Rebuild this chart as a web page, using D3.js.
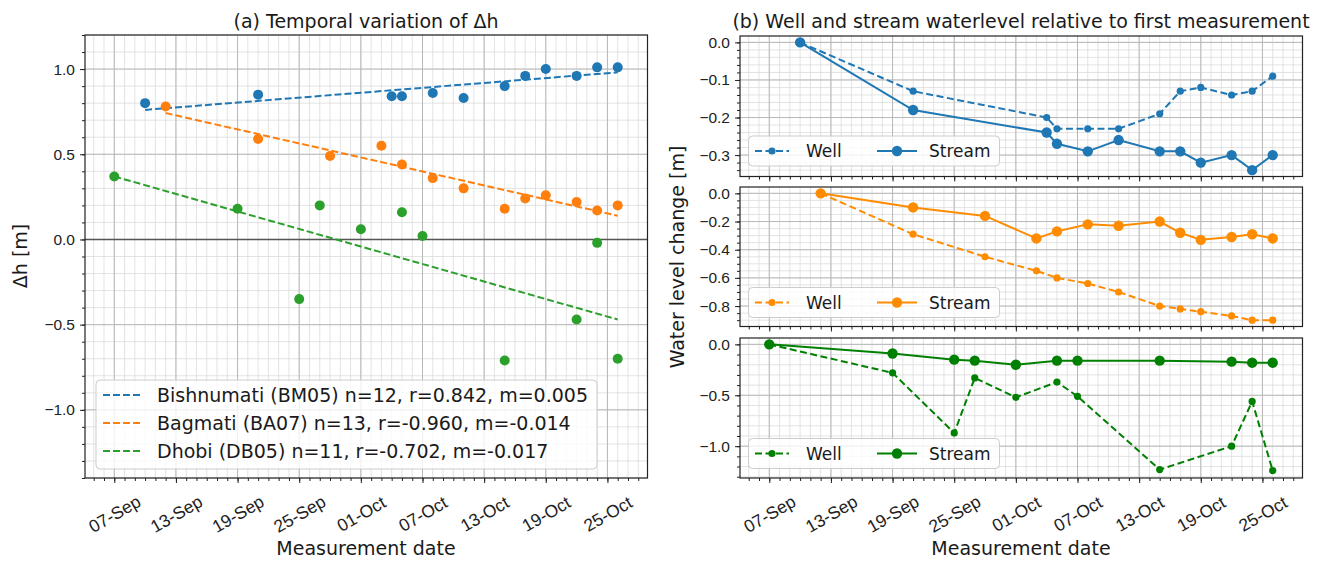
<!DOCTYPE html>
<html lang="en">
<head>
<meta charset="UTF-8">
<title>Temporal variation of Δh and water level change</title>
<script src="https://d3js.org/d3.v7.min.js"></script>
<style>
  body { margin: 0; background: #fff; }
  svg { font-family: "DejaVu Sans", sans-serif; display: block; background: #fff; }
  .grid-major line { stroke: #b8b8b8; stroke-width: 1; }
  .grid-minor line { stroke: #dcdcdc; stroke-width: 0.8; }
  .axis path { display: none; }
  .axis line { stroke: #222; stroke-width: 1; }
  .axis text { fill: #222; font-size: 15.5px; }
</style>
</head>
<body>
<div id="chart"></div>
<script>
  // Bishnumati (BM05)
  const bmDates = ["2019-09-10","2019-09-21","2019-10-04","2019-10-05","2019-10-08","2019-10-11","2019-10-15","2019-10-17","2019-10-19","2019-10-22","2019-10-24","2019-10-26"];
  const bmDh = [0.80, 0.85, 0.84, 0.84, 0.86, 0.83, 0.90, 0.96, 1.00, 0.96, 1.01, 1.01];
  const bmWell = [0, -0.13, -0.20, -0.23, -0.23, -0.23, -0.19, -0.13, -0.12, -0.14, -0.13, -0.09];
  const bmStream = [0, -0.18, -0.24, -0.27, -0.29, -0.26, -0.29, -0.29, -0.32, -0.30, -0.34, -0.30];

  // Bagmati (BA07)
  const baDates = ["2019-09-12","2019-09-21","2019-09-28","2019-10-03","2019-10-05","2019-10-08","2019-10-11","2019-10-15","2019-10-17","2019-10-19","2019-10-22","2019-10-24","2019-10-26"];
  const baDh = [0.78, 0.59, 0.49, 0.55, 0.44, 0.36, 0.30, 0.18, 0.24, 0.26, 0.22, 0.17, 0.20];
  const baWell = [0, -0.29, -0.45, -0.55, -0.60, -0.64, -0.70, -0.80, -0.82, -0.84, -0.87, -0.90, -0.90];
  const baStream = [0, -0.10, -0.16, -0.32, -0.27, -0.22, -0.23, -0.20, -0.28, -0.33, -0.31, -0.29, -0.32];

  // Dhobi (DB05)
  const dbDates = ["2019-09-07","2019-09-19","2019-09-25","2019-09-27","2019-10-01","2019-10-05","2019-10-07","2019-10-15","2019-10-22","2019-10-24","2019-10-26"];
  const dbDh = [0.37, 0.18, -0.35, 0.20, 0.06, 0.16, 0.02, -0.71, -0.47, -0.02, -0.70];
  const dbWell = [0, -0.28, -0.87, -0.33, -0.52, -0.37, -0.51, -1.23, -1.00, -0.56, -1.24];
  const dbStream = [0, -0.09, -0.15, -0.16, -0.20, -0.16, -0.16, -0.16, -0.17, -0.18, -0.18];

  const legendLabels = [
    "Bishnumati (BM05) n=12, r=0.842, m=0.005",
    "Bagmati (BA07) n=13, r=-0.960, m=-0.014",
    "Dhobi (DB05) n=11, r=-0.702, m=-0.017"
  ];
  const xTickDates = ["2019-09-07","2019-09-13","2019-09-19","2019-09-25","2019-10-01","2019-10-07","2019-10-13","2019-10-19","2019-10-25"];
  const leftYTicks = [-1.0, -0.5, 0.0, 0.5, 1.0];
  const bmYTicks = [-0.3, -0.2, -0.1, 0.0];
  const baYTicks = [-0.8, -0.6, -0.4, -0.2, 0.0];
  const dbYTicks = [-1.0, -0.5, 0.0];

  const parse = d3.utcParse("%Y-%m-%d");
  const fmtDate = d3.utcFormat("%d-%b");
  const fmtY = v => (v < -1e-9 ? "\u2212" : "") + Math.abs(v).toFixed(1);
  const DAY = 864e5;
  const t0 = parse("2019-09-07");
  const xDomain = [new Date(+t0 - 2.85 * DAY), new Date(+t0 + 51.9 * DAY)];
  const xMinor = d3.utcDay.range(xDomain[0], xDomain[1]);
  const xMajor = xTickDates.map(parse);

  const cLeft = ["#1f77b4", "#ff7f0e", "#2ca02c"];
  const cRight = ["#1f77b4", "#ff8c00", "#008000"];

  const svg = d3.select("#chart").append("svg")
    .attr("width", 1321).attr("height", 563);

  function minorRange(lo, hi, step) {
    const a = Math.ceil(lo / step - 1e-6), b = Math.floor(hi / step + 1e-6);
    return d3.range(a, b + 1).map(i => +(i * step).toFixed(4));
  }

  // one axes box with grid, ticks and frame; returns scales and a data layer
  function panel(p) {
    const x = d3.scaleUtc().domain(xDomain).range([p.left, p.right]);
    const y = d3.scaleLinear().domain(p.yDomain).range([p.bottom, p.top]);
    const g = svg.append("g");
    const yMinor = minorRange(p.yDomain[0], p.yDomain[1], p.yMinorStep);

    const gm = g.append("g").attr("class", "grid-minor");
    gm.selectAll("line.v").data(xMinor).join("line")
      .attr("x1", d => x(d)).attr("x2", d => x(d)).attr("y1", p.top).attr("y2", p.bottom);
    gm.selectAll("line.h").data(yMinor).join("line")
      .attr("x1", p.left).attr("x2", p.right).attr("y1", d => y(d)).attr("y2", d => y(d));
    const gM = g.append("g").attr("class", "grid-major");
    gM.selectAll("line.v").data(xMajor).join("line")
      .attr("x1", d => x(d)).attr("x2", d => x(d)).attr("y1", p.top).attr("y2", p.bottom);
    gM.selectAll("line.h").data(p.yTicks).join("line")
      .attr("x1", p.left).attr("x2", p.right).attr("y1", d => y(d)).attr("y2", d => y(d));

    // minor ticks
    g.append("g").attr("class", "axis").attr("transform", `translate(${p.left},0)`)
      .call(d3.axisLeft(y).tickValues(yMinor).tickSize(3).tickFormat(""));
    g.append("g").attr("class", "axis").attr("transform", `translate(0,${p.bottom})`)
      .call(d3.axisBottom(x).tickValues(xMinor).tickSize(3).tickFormat(""));
    // major ticks
    g.append("g").attr("class", "axis").attr("transform", `translate(${p.left},0)`)
      .call(d3.axisLeft(y).tickValues(p.yTicks).tickSize(5).tickPadding(5).tickFormat(fmtY));
    const xa = g.append("g").attr("class", "axis").attr("transform", `translate(0,${p.bottom})`)
      .call(d3.axisBottom(x).tickValues(xMajor).tickSize(5).tickFormat(p.xLabels ? fmtDate : ""));
    if (p.xLabels) {
      xa.selectAll("text")
        .attr("y", 0).attr("dy", null)
        .attr("dominant-baseline", "central")
        .style("font-size", "17.5px")
        .attr("transform", "translate(0,36) rotate(-30)");
    }

    const data = g.append("g");
    const over = g.append("g");
    g.append("rect")
      .attr("x", p.left).attr("y", p.top)
      .attr("width", p.right - p.left).attr("height", p.bottom - p.top)
      .attr("fill", "none").attr("stroke", "#222").attr("stroke-width", 1.2);
    return { x, y, data, over };
  }

  // ---------- (a) left panel ----------
  const A = panel({ left: 85, right: 647.5, top: 35, bottom: 478,
    yDomain: [-1.4, 1.2], yTicks: leftYTicks, yMinorStep: 0.1, xLabels: true });

  A.data.append("line")
    .attr("x1", 85).attr("x2", 647.5).attr("y1", A.y(0)).attr("y2", A.y(0))
    .attr("stroke", "#555").attr("stroke-width", 1.5);

  const leftSeries = [
    { dates: bmDates, vals: bmDh },
    { dates: baDates, vals: baDh },
    { dates: dbDates, vals: dbDh }
  ];
  leftSeries.forEach((s, i) => {
    const pts = s.dates.map((d, k) => ({ t: parse(d), v: s.vals[k] }));
    // least squares trend in days
    const xs = pts.map(p => (p.t - t0) / DAY), ys = pts.map(p => p.v);
    const mx = d3.mean(xs), my = d3.mean(ys);
    const m = d3.sum(xs, (xv, k) => (xv - mx) * (ys[k] - my)) / d3.sum(xs, xv => (xv - mx) ** 2);
    const b = my - m * mx;
    const ends = [pts[0].t, pts[pts.length - 1].t];
    A.data.append("line")
      .attr("x1", A.x(ends[0])).attr("x2", A.x(ends[1]))
      .attr("y1", A.y(b + m * (ends[0] - t0) / DAY)).attr("y2", A.y(b + m * (ends[1] - t0) / DAY))
      .attr("stroke", cLeft[i]).attr("stroke-width", 2).attr("stroke-dasharray", "7,3");
    A.data.selectAll(null).data(pts).join("circle")
      .attr("cx", d => A.x(d.t)).attr("cy", d => A.y(d.v)).attr("r", 5)
      .attr("fill", cLeft[i]);
  });

  // legend (a)
  const lg = A.over.append("g");
  lg.append("rect").attr("x", 96).attr("y", 380).attr("width", 501).attr("height", 89)
    .attr("rx", 4).attr("fill", "#fff").attr("fill-opacity", 0.8)
    .attr("stroke", "#cccccc").attr("stroke-width", 1);
  legendLabels.forEach((t, i) => {
    const yy = 395 + i * 28;
    lg.append("line").attr("x1", 103).attr("x2", 141).attr("y1", yy).attr("y2", yy)
      .attr("stroke", cLeft[i]).attr("stroke-width", 2).attr("stroke-dasharray", "7,3");
    lg.append("text").attr("x", 157).attr("y", yy).attr("dominant-baseline", "central")
      .style("font-size", "19px").attr("fill", "#1a1a1a").text(t);
  });

  svg.append("text").attr("x", 366).attr("y", 28).attr("text-anchor", "middle")
    .style("font-size", "19px").attr("fill", "#1a1a1a").text("(a) Temporal variation of Δh");
  svg.append("text").attr("x", 366).attr("y", 555).attr("text-anchor", "middle")
    .style("font-size", "19px").attr("fill", "#1a1a1a").text("Measurement date");
  svg.append("text").attr("transform", "translate(20,256) rotate(-90)")
    .attr("text-anchor", "middle").attr("dominant-baseline", "central")
    .style("font-size", "19px").attr("fill", "#1a1a1a").text("Δh [m]");

  // ---------- (b) right panels ----------
  const rightPanels = [
    { dates: bmDates, well: bmWell, stream: bmStream, top: 36, bottom: 176.5,
      yDomain: [-0.357, 0.017], yTicks: bmYTicks, yMinorStep: 0.02 },
    { dates: baDates, well: baWell, stream: baStream, top: 187, bottom: 326.5,
      yDomain: [-0.945, 0.045], yTicks: baYTicks, yMinorStep: 0.05 },
    { dates: dbDates, well: dbWell, stream: dbStream, top: 338, bottom: 478,
      yDomain: [-1.3125, 0.0625], yTicks: dbYTicks, yMinorStep: 0.1 }
  ];
  rightPanels.forEach((rp, i) => {
    const P = panel({ left: 740, right: 1302.5, top: rp.top, bottom: rp.bottom,
      yDomain: rp.yDomain, yTicks: rp.yTicks, yMinorStep: rp.yMinorStep, xLabels: i === 2 });
    const col = cRight[i];
    const well = rp.dates.map((d, k) => ({ t: parse(d), v: rp.well[k] }));
    const stream = rp.dates.map((d, k) => ({ t: parse(d), v: rp.stream[k] }));
    const line = d3.line().x(d => P.x(d.t)).y(d => P.y(d.v));
    P.data.append("path").datum(well).attr("d", line).attr("fill", "none")
      .attr("stroke", col).attr("stroke-width", 2).attr("stroke-dasharray", "7,3.5");
    P.data.selectAll(null).data(well).join("circle")
      .attr("cx", d => P.x(d.t)).attr("cy", d => P.y(d.v)).attr("r", 3.6).attr("fill", col);
    P.data.append("path").datum(stream).attr("d", line).attr("fill", "none")
      .attr("stroke", col).attr("stroke-width", 2);
    P.data.selectAll(null).data(stream).join("circle")
      .attr("cx", d => P.x(d.t)).attr("cy", d => P.y(d.v)).attr("r", 5.2).attr("fill", col);

    // legend
    const cy = [151, 302.5, 453.5][i];
    const L = P.over.append("g");
    L.append("rect").attr("x", 748.5).attr("y", cy - 15).attr("width", 251).attr("height", 30)
      .attr("rx", 4).attr("fill", "#fff").attr("fill-opacity", 0.8)
      .attr("stroke", "#cccccc").attr("stroke-width", 1);
    L.append("line").attr("x1", 755).attr("x2", 789).attr("y1", cy).attr("y2", cy)
      .attr("stroke", col).attr("stroke-width", 2).attr("stroke-dasharray", "7,3.5");
    L.append("circle").attr("cx", 772).attr("cy", cy).attr("r", 3.6).attr("fill", col);
    L.append("text").attr("x", 806).attr("y", cy).attr("dominant-baseline", "central")
      .style("font-size", "17px").attr("fill", "#1a1a1a").text("Well");
    L.append("line").attr("x1", 877).attr("x2", 917).attr("y1", cy).attr("y2", cy)
      .attr("stroke", col).attr("stroke-width", 2);
    L.append("circle").attr("cx", 897).attr("cy", cy).attr("r", 5.2).attr("fill", col);
    L.append("text").attr("x", 929).attr("y", cy).attr("dominant-baseline", "central")
      .style("font-size", "17px").attr("fill", "#1a1a1a").text("Stream");
  });

  svg.append("text").attr("x", 1021).attr("y", 28).attr("text-anchor", "middle")
    .style("font-size", "19px").attr("fill", "#1a1a1a")
    .text("(b) Well and stream waterlevel relative to first measurement");
  svg.append("text").attr("x", 1021).attr("y", 555).attr("text-anchor", "middle")
    .style("font-size", "19px").attr("fill", "#1a1a1a").text("Measurement date");
  svg.append("text").attr("transform", "translate(677,257) rotate(-90)")
    .attr("text-anchor", "middle").attr("dominant-baseline", "central")
    .style("font-size", "19px").attr("fill", "#1a1a1a").text("Water level change [m]");
</script>
</body>
</html>
